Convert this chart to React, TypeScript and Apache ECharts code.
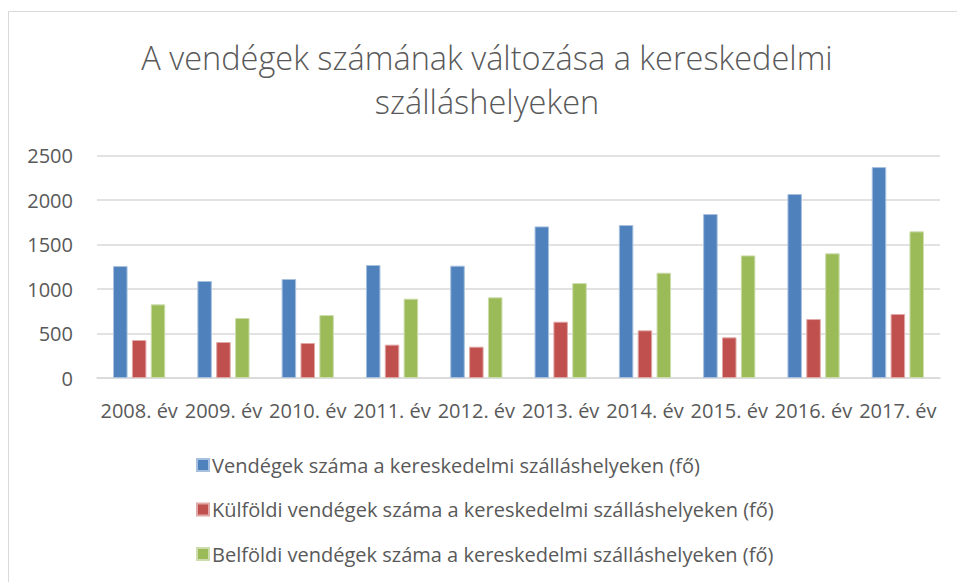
import React, { useEffect, useRef } from "react";
import * as echarts from "echarts";

const categories = [
  "2008. év", "2009. év", "2010. év", "2011. év", "2012. év",
  "2013. év", "2014. év", "2015. év", "2016. év", "2017. év",
];
const osszes = [1259, 1091, 1113, 1271, 1263, 1705, 1720, 1844, 2069, 2372];
const kulfoldi = [427, 405, 394, 375, 352, 633, 536, 457, 663, 720];
const belfoldi = [828, 675, 708, 892, 907, 1068, 1184, 1379, 1402, 1649];

const seriesNames = [
  "Vendégek száma a kereskedelmi szálláshelyeken (fő)",
  "Külföldi vendégek száma a kereskedelmi szálláshelyeken (fő)",
  "Belföldi vendégek száma a kereskedelmi szálláshelyeken (fő)",
];
const titleLines = ["A vendégek számának változása a kereskedelmi", "szálláshelyeken"];
const yTicks = { min: 0, max: 2500, interval: 500 };

const FONT = "'Open Sans', 'Noto Sans', sans-serif";
const TXT = "#595959";

export default function App() {
  const ref = useRef<HTMLDivElement>(null);
  useEffect(() => {
    if (!ref.current) return;
    const chart = echarts.init(ref.current, undefined, { renderer: "svg" });
    const colors = ["#4f81bd", "#c0504d", "#9bbb59"];
    const borders = ["#a7c0de", "#e0a8a6", "#cddcac"];
    const datas = [osszes, kulfoldi, belfoldi];
    chart.setOption({
      animation: false,
      backgroundColor: "#ffffff",
      textStyle: { fontFamily: FONT },
      graphic: [
        {
          type: "rect",
          shape: { x: 8.5, y: 11.5, width: 1200, height: 1200 },
          style: { fill: "none", stroke: "#d9d9d9", lineWidth: 1 },
          silent: true,
        },
        ...titleLines.map((t, i) => ({
          type: "text",
          x: 487,
          y: 57 + i * 44,
          style: {
            text: t,
            fontFamily: FONT,
            fontSize: 32.5,
            fontWeight: 300,
            fill: TXT,
            align: "center",
            verticalAlign: "middle",
          },
        })),
      ],
      legend: {
        orient: "vertical",
        left: 191,
        top: 448,
        itemWidth: 12,
        itemHeight: 12,
        itemGap: 20.5,
        icon: "rect",
        textStyle: { fontFamily: FONT, fontSize: 20, color: TXT, lineHeight: 24, padding: [0, 0, 0, -2] },
        data: seriesNames,
      },
      grid: { left: 97, right: 17, top: 155.7, bottom: 204, containLabel: false },
      xAxis: {
        type: "category",
        data: categories,
        axisTick: { show: false },
        axisLine: { lineStyle: { color: "#d9d9d9", width: 1.5 } },
        axisLabel: { interval: 0, color: TXT, fontSize: 20, fontFamily: FONT, margin: 22 },
      },
      yAxis: {
        type: "value",
        min: yTicks.min,
        max: yTicks.max,
        interval: yTicks.interval,
        axisLine: { show: false },
        axisTick: { show: false },
        splitLine: { lineStyle: { color: "#d9d9d9", width: 1.5 } },
        axisLabel: {
          color: TXT,
          fontSize: 20,
          fontFamily: FONT,
          margin: 24,
          formatter: (v: number) => String(v),
        },
      },
      series: seriesNames.map((name, i) => ({
        name,
        type: "bar",
        data: datas[i],
        barWidth: 14.5,
        barGap: "30%",
        itemStyle: { color: colors[i], borderColor: borders[i], borderWidth: 1 },
      })),
    });
    return () => chart.dispose();
  }, []);
  return (
    <div
      ref={ref}
      style={{ position: "absolute", left: 0, top: 0, width: 957, height: 582 }}
    />
  );
}
